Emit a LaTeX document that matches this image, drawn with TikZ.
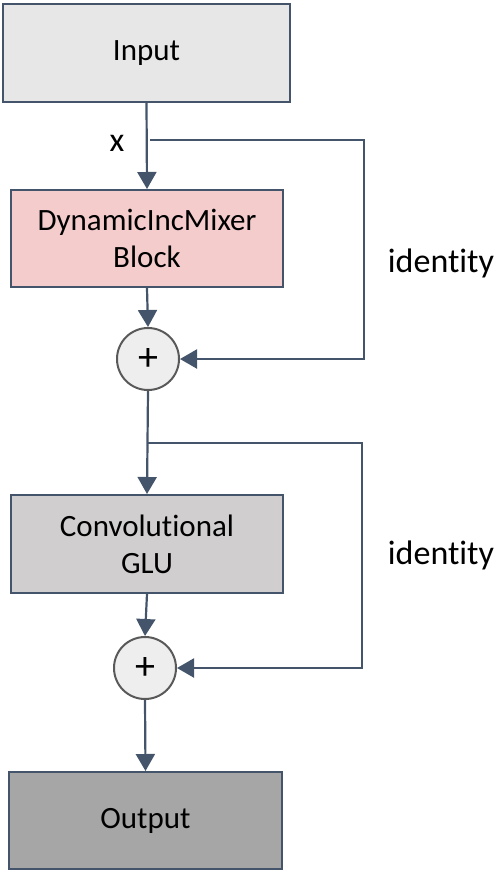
\documentclass[tikz,border=0pt]{standalone}
\usepackage{fontspec}
\setmainfont{Carlito}[Ligatures={NoCommon}]
\usetikzlibrary{arrows.meta}
\definecolor{edge}{HTML}{44546A}
\definecolor{inputfill}{HTML}{E7E7E7}
\definecolor{mixfill}{HTML}{F4CCCC}
\definecolor{convfill}{HTML}{D0CECE}
\definecolor{outfill}{HTML}{A6A6A6}
\definecolor{sumfill}{HTML}{EEEEEE}
\definecolor{sumedge}{HTML}{595959}
\tikzset{
  blockbox/.style={draw=edge, line width=2pt, rectangle, align=center,
    font=\fontsize{31}{37}\selectfont, inner sep=0pt},
  sumnode/.style={draw=sumedge, line width=2pt, circle, fill=sumfill,
    minimum size=62pt, inner sep=0pt, font=\fontsize{40}{40}\selectfont},
  conn/.style={draw=edge, line width=2.2pt, -{Triangle[width=19pt,length=17pt]}},
  lbl/.style={font=\fontsize{34}{40}\selectfont, inner sep=0pt}
}
\begin{document}
\begin{tikzpicture}[x=1pt,y=-1pt]
\useasboundingbox (0,0) rectangle (502,873);
\node[blockbox, fill=inputfill, minimum width=287pt, minimum height=98pt] (in) at (146.5,53) {Input};
\node[blockbox, fill=mixfill, minimum width=272pt, minimum height=97pt] (mix) at (147,238.5) {DynamicIncMixer\\Block};
\node[sumnode] (s1) at (148,359) {+};
\node[blockbox, fill=convfill, minimum width=272pt, minimum height=98pt] (conv) at (147,544) {Convolutional\\GLU};
\node[sumnode] (s2) at (145,668) {+};
\node[blockbox, fill=outfill, minimum width=273pt, minimum height=97pt] (out) at (145.5,820.5) {Output};
\node[lbl] (xl) at (117,143) {x};
\node[lbl] (id1) at (441,263) {identity};
\node[lbl] (id2) at (441,555) {identity};
\coordinate (b1) at (150,140);
\coordinate (r1) at (364,140);
\coordinate (b2) at (148,443);
\coordinate (r2) at (362,443);
\draw[conn] (in.south) -- (mix.north);
\draw[conn] (mix.south) -- (s1.north);
\draw[conn] (s1.south) -- (conv.north);
\draw[conn] (conv.south) -- (s2.north);
\draw[conn] (s2.south) -- (out.north);
\draw[conn] (b1) -- (r1) |- (s1.east);
\draw[conn] (b2) -- (r2) |- (s2.east);
\end{tikzpicture}
\end{document}
